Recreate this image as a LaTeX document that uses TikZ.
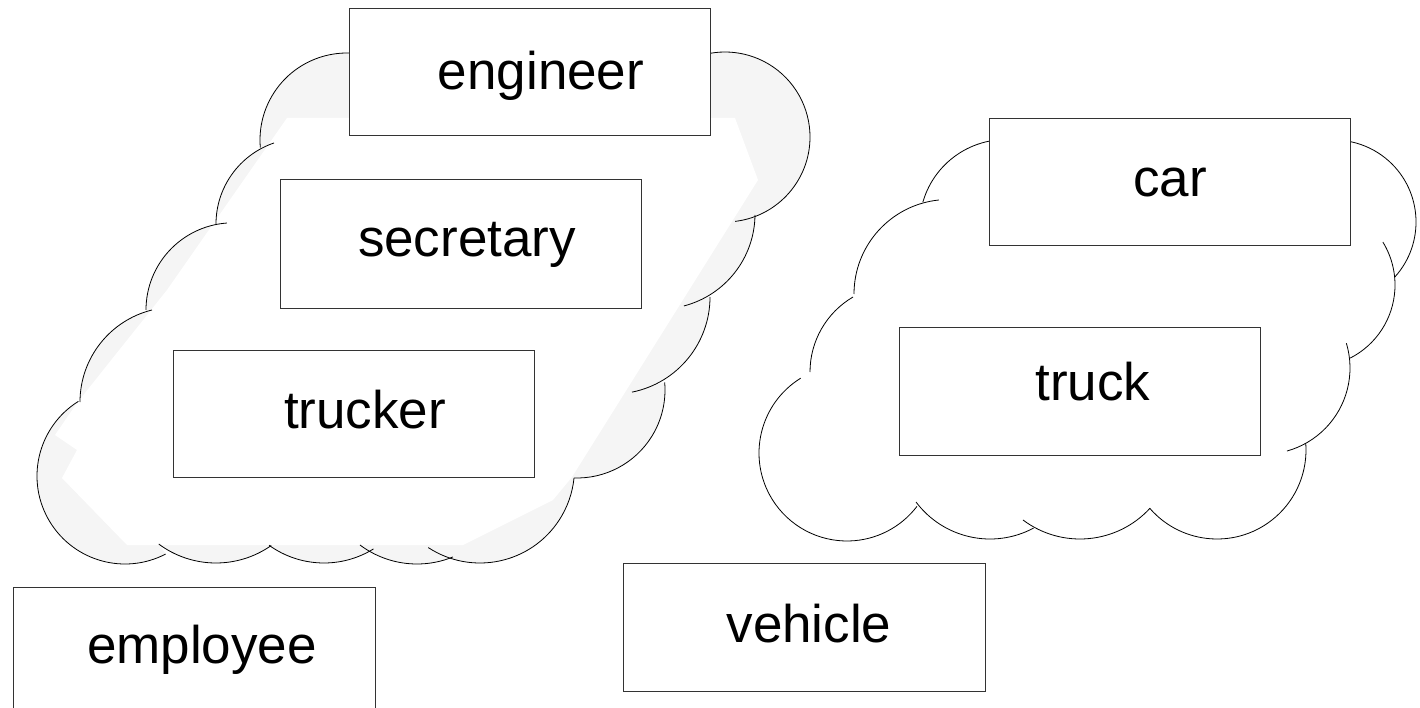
\documentclass[tikz,border=0pt]{standalone}
\usepackage{fontspec}
\setmainfont{Liberation Sans}
\tikzset{
  cloudline/.style={draw=black, line width=0.8pt},
  classbox/.style={rectangle, draw=black!80, fill=white, line width=1pt, inner sep=0pt},
  word/.style={font=\fontsize{53}{60}\selectfont, anchor=base, inner sep=0pt},
}
% arcs of the clouds: centre x / centre y / radius / start angle / end angle
\def\leftarcs{347/140/87/-60/-185, 301.6/224/85.6/-108.8/-180, 233.2/310/87.2/-94.1/-180,
  174.8/402/94.8/-103.9/-180, 125/476/88/-122/-297.5, 216/467/96/126.6/54.9,
  324/469/94/125.8/58.2, 417/469/95/126.9/67.8, 480/468.5/94.5/123.2/5.8,
  577/390/88/92/-5, 613/297/97/78.7/0, 660/214/95/75.4/0.6, 725/137/85/83.2/-120}
\def\rightarcs{1006/226/86.5/-80/-164, 948.5/294/94.5/-95.8/-180, 896.9/372/86.9/-120.3/-180,
  847/453/88/-121.8/-322.7, 990/446.5/92.5/143.1/61.9, 1080/444/95/126.9/42.4,
  1217/450/89/139/-4.5, 1263.8/368/86.2/74.4/-16.7, 1313/285/82/63.1/-31.6,
  1334/222/82/42/-100}
\begin{document}
\begin{tikzpicture}[x=1pt,y=-1pt]
\useasboundingbox (0,0) rectangle (1420,708);
\clip (0,0) rectangle (1420,708);

% shaded left cloud with its lighter inner area
\begin{scope}
  \clip ([shift={(-60:87)}]347,140)
    foreach \cx/\cy/\r/\s/\e in \leftarcs {
      -- ([shift={(\s:\r)}]\cx,\cy) arc[start angle=\s, end angle=\e, radius=\r]
    } -- cycle;
  \fill[black!4] (0,0) rectangle (900,620);
  \fill[white] (287,118) -- (735,118) -- (758,180) -- (572,477) -- (553,500)
    -- (463,545) -- (127,545) -- (62,478) -- (77,450) -- (55,435) -- (77,403)
    -- (167,290) -- cycle;
\end{scope}

% cloud outlines
\foreach \cx/\cy/\r/\s/\e in \leftarcs
  \draw[cloudline] ([shift={(\s:\r)}]\cx,\cy) arc[start angle=\s, end angle=\e, radius=\r];
\foreach \cx/\cy/\r/\s/\e in \rightarcs
  \draw[cloudline] ([shift={(\s:\r)}]\cx,\cy) arc[start angle=\s, end angle=\e, radius=\r];

% class boxes
\node[classbox, minimum width=361pt, minimum height=127pt] (engineerbox)  at (529.5,72.5) {};
\node[classbox, minimum width=361pt, minimum height=128pt] (secretarybox) at (460.5,244) {};
\node[classbox, minimum width=361pt, minimum height=127pt] (truckerbox)   at (353.5,413.5) {};
\node[classbox, minimum width=362pt, minimum height=128pt] (employeebox)  at (194,651) {};
\node[classbox, minimum width=362pt, minimum height=128pt] (vehiclebox)   at (804,627) {};
\node[classbox, minimum width=361pt, minimum height=127pt] (carbox)       at (1169.5,182.5) {};
\node[classbox, minimum width=361pt, minimum height=128pt] (truckbox)     at (1079.5,391) {};

% labels
\node[word] (engineer)  at (541,90)   {engineer};
\node[word] (secretary) at (467,257)  {secretary};
\node[word] (trucker)   at (365,428)  {trucker};
\node[word] (employee)  at (202,663)  {employee};
\node[word] (vehicle)   at (809,642)  {vehicle};
\node[word] (car)       at (1170,197) {car};
\node[word] (truck)     at (1093,400) {truck};
\end{tikzpicture}
\end{document}
